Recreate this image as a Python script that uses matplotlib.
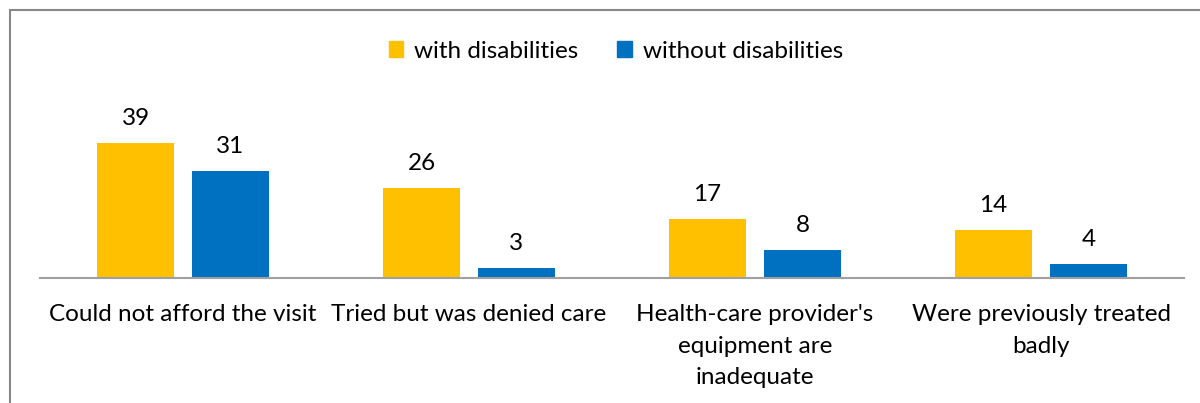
import numpy as np
import matplotlib.pyplot as plt
from matplotlib.patches import Rectangle, Patch

categories = ["Could not afford the visit", "Tried but was denied care",
              "Health-care provider's\nequipment are\ninadequate",
              "Were previously treated\nbadly"]
with_dis = [39, 26, 17, 14]
without_dis = [31, 3, 8, 4]
series_names = ["with disabilities", "without disabilities"]

YELLOW = "#FFC000"
BLUE = "#0070C0"

plt.rcParams['font.family'] = ['Lato', 'DejaVu Sans']

W, H = 1200, 403
fig = plt.figure(figsize=(W / 100, H / 100), dpi=100)

# chart frame, open to the right and bottom
fig.patches.append(Rectangle((10 / W, -0.1), 1.2, 1 - 10 / H + 0.1,
                             transform=fig.transFigure, fill=False,
                             edgecolor="#888888", linewidth=1.5))

ax_left, ax_right = 40 / W, 1184 / W
ax_bottom, ax_top = 1 - 278 / H, 1 - 80 / H
ax = fig.add_axes([ax_left, ax_bottom, ax_right - ax_left, ax_top - ax_bottom])

x = np.arange(len(categories))
bw = 0.266
off = 0.166
b1 = ax.bar(x - off, with_dis, bw, color=YELLOW, label=series_names[0])
b2 = ax.bar(x + off, without_dis, bw, color=BLUE, label=series_names[1])

for bars, vals in ((b1, with_dis), (b2, without_dis)):
    for rect, v in zip(bars, vals):
        ax.annotate(str(v), (rect.get_x() + rect.get_width() / 2, v),
                    xytext=(0, 10), textcoords="offset points",
                    ha="center", va="bottom", fontsize=17.5, color="black")

ax.set_xlim(-0.5, len(categories) - 0.5)
ax.set_ylim(0, 198 / 3.46)

for s in ("top", "right", "left"):
    ax.spines[s].set_visible(False)
ax.spines["bottom"].set_color("#a0a0a0")
ax.spines["bottom"].set_linewidth(1.5)
ax.set_yticks([])
ax.set_xticks(x)
ax.set_xticklabels(categories, fontsize=17.5, linespacing=1.62)
ax.tick_params(axis="x", length=0, pad=19)

handles = [Patch(color=YELLOW), Patch(color=BLUE)]
fig.legend(handles, series_names, loc="center", bbox_to_anchor=(616 / W, 1 - 51 / H),
           ncol=2, frameon=False, fontsize=17.5, handlelength=0.6, handleheight=0.6,
           handletextpad=0.45, columnspacing=1.6)

fig.savefig("out.png", dpi=100)
